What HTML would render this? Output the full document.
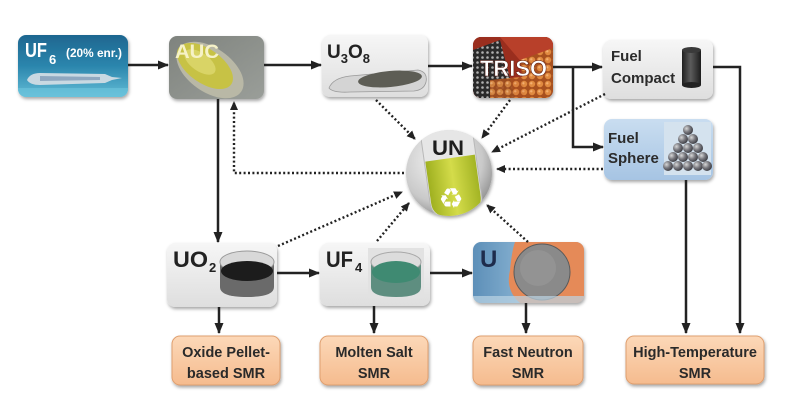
<!DOCTYPE html>
<html><head><meta charset="utf-8"><style>
html,body{margin:0;padding:0;background:#fff;}
svg{display:block;}
text{font-family:"Liberation Sans",sans-serif;font-weight:bold;}
</style></head><body>
<svg width="797" height="403" viewBox="0 0 797 403" xmlns="http://www.w3.org/2000/svg">
<defs>
<filter id="sh" x="-10%" y="-10%" width="125%" height="130%"><feDropShadow dx="1" dy="2" stdDeviation="1.5" flood-color="#000" flood-opacity="0.35"/></filter>
<marker id="ah" markerUnits="userSpaceOnUse" markerWidth="11" markerHeight="10" refX="10" refY="5" orient="auto"><path d="M0,0.5 L11,5 L0,9.5 z" fill="#222"/></marker>
<marker id="ad" markerUnits="userSpaceOnUse" markerWidth="9" markerHeight="9" refX="8" refY="4.5" orient="auto"><path d="M0,0.5 L9,4.5 L0,8.5 z" fill="#222"/></marker>
<linearGradient id="gUF6" x1="0" y1="0" x2="0" y2="1"><stop offset="0" stop-color="#1e6690"/><stop offset="0.5" stop-color="#2b86ad"/><stop offset="1" stop-color="#62bcd6"/></linearGradient>
<linearGradient id="gAUC" x1="0" y1="0" x2="1" y2="1"><stop offset="0" stop-color="#7f837e"/><stop offset="1" stop-color="#9a9e99"/></linearGradient>
<linearGradient id="gLight" x1="0" y1="0" x2="0" y2="1"><stop offset="0" stop-color="#f6f6f6"/><stop offset="1" stop-color="#dedede"/></linearGradient>
<linearGradient id="gBlue" x1="0" y1="0" x2="0" y2="1"><stop offset="0" stop-color="#c9ddf0"/><stop offset="1" stop-color="#a6c4e3"/></linearGradient>
<linearGradient id="gOr" x1="0" y1="0" x2="0" y2="1"><stop offset="0" stop-color="#fcd8b8"/><stop offset="1" stop-color="#f5bb8e"/></linearGradient>
<linearGradient id="gU" x1="0" y1="0" x2="1" y2="0"><stop offset="0" stop-color="#5d8fb8"/><stop offset="0.5" stop-color="#8cb6d4"/><stop offset="1" stop-color="#a9c8dc"/></linearGradient>
<linearGradient id="gCyl" x1="0" y1="0" x2="1" y2="0"><stop offset="0" stop-color="#1f1f1f"/><stop offset="0.45" stop-color="#5c5c5c"/><stop offset="1" stop-color="#1c1c1c"/></linearGradient>
<radialGradient id="gBall" cx="0.35" cy="0.35" r="0.7"><stop offset="0" stop-color="#d8d8d8"/><stop offset="0.5" stop-color="#7a7a80"/><stop offset="1" stop-color="#3a3a40"/></radialGradient>
<radialGradient id="gUN" cx="0.4" cy="0.35" r="0.7"><stop offset="0" stop-color="#f4f4f4"/><stop offset="0.7" stop-color="#c9c9c9"/><stop offset="1" stop-color="#8e8e8e"/></radialGradient>
<linearGradient id="gLiq" x1="0" y1="0" x2="1" y2="0"><stop offset="0" stop-color="#9fb020"/><stop offset="0.5" stop-color="#d4dc4a"/><stop offset="1" stop-color="#a3b424"/></linearGradient>
<pattern id="dots" width="5" height="5" patternUnits="userSpaceOnUse"><rect width="5" height="5" fill="#2a2a2a"/><circle cx="2.5" cy="2.5" r="1.3" fill="#b0b0b0"/></pattern>
<pattern id="ocirc" width="8" height="8" patternUnits="userSpaceOnUse"><rect width="8" height="8" fill="#a8501e"/><circle cx="4" cy="4" r="3.2" fill="#e08a40"/><circle cx="3.3" cy="3.3" r="1.2" fill="#f4b070"/></pattern>
<clipPath id="cUF6"><rect x="18" y="35" width="110" height="62" rx="8"/></clipPath>
<clipPath id="cAUC"><rect x="169" y="36" width="95" height="63" rx="8"/></clipPath>
<clipPath id="cU3"><rect x="322" y="35" width="106" height="62" rx="8"/></clipPath>
<clipPath id="cTR"><rect x="473" y="37" width="80" height="61" rx="8"/></clipPath>
<clipPath id="cU"><rect x="473" y="242" width="111" height="61" rx="8"/></clipPath>
<clipPath id="cUN"><circle cx="449" cy="173" r="43"/></clipPath>
</defs>

<!-- UF6 -->
<g filter="url(#sh)"><rect x="18" y="35" width="110" height="62" rx="8" fill="url(#gUF6)"/></g>
<g clip-path="url(#cUF6)">
<path d="M27,80 Q30,73 40,73 L105,74 L112,77 L122,78 L112,80 L105,83 L40,85 Q30,85 27,80 z" fill="#c9d9e2"/>
<path d="M40,76 L100,77 L100,80 L40,81 z" fill="#8fa8c0"/>
<rect x="18" y="88" width="110" height="9" fill="#6ec6dd" opacity="0.6"/>
</g>
<text x="25" y="57" font-size="20" fill="#fff" textLength="22" lengthAdjust="spacingAndGlyphs">UF</text>
<text x="49" y="64" font-size="13" fill="#fff">6</text>
<text x="66" y="57" font-size="12" fill="#fff" textLength="56" lengthAdjust="spacingAndGlyphs">(20% enr.)</text>

<!-- AUC -->
<g filter="url(#sh)"><rect x="169" y="36" width="95" height="63" rx="8" fill="url(#gAUC)"/></g>
<g clip-path="url(#cAUC)">
<ellipse cx="210" cy="70" rx="38" ry="22" transform="rotate(35 210 70)" fill="#b9b8a6"/>
<ellipse cx="205" cy="66" rx="32" ry="17" transform="rotate(35 205 66)" fill="#c7c245"/>
<ellipse cx="200" cy="62" rx="18" ry="9" transform="rotate(35 200 62)" fill="#d9d466"/>
</g>
<text x="175" y="58" font-size="19" fill="#f6f2c8" textLength="44" lengthAdjust="spacingAndGlyphs">AUC</text>

<!-- U3O8 -->
<g filter="url(#sh)"><rect x="322" y="35" width="106" height="62" rx="8" fill="url(#gLight)"/></g>
<g clip-path="url(#cU3)">
<path d="M329,88 Q333,78 350,76 L418,70 Q428,72 426,82 Q424,90 414,91 L350,92 Q333,93 329,88 z" fill="#d4d4d4" stroke="#9a9a9a" stroke-width="0.8"/>
<ellipse cx="390" cy="79" rx="32" ry="8" transform="rotate(-5 390 79)" fill="#5d5d55"/>
</g>
<text x="327" y="58" font-size="19" fill="#222">U<tspan font-size="13" dy="5">3</tspan><tspan font-size="19" dy="-5">O</tspan><tspan font-size="13" dy="5">8</tspan></text>

<!-- TRISO -->
<g filter="url(#sh)"><rect x="473" y="37" width="80" height="61" rx="8" fill="#7a2a1a"/></g>
<g clip-path="url(#cTR)">
<rect x="473" y="37" width="80" height="61" fill="#9a2e1e"/>
<polygon points="500,37 553,37 553,60 530,72" fill="#b8402a"/>
<polygon points="473,50 500,40 515,98 473,98" fill="url(#dots)"/>
<polygon points="520,60 553,48 553,98 525,98" fill="url(#ocirc)"/>
<polygon points="490,80 530,76 553,90 553,98 490,98" fill="url(#ocirc)" opacity="0.9"/>
</g>
<text x="480" y="76" font-size="22" fill="#fff" stroke="#5a1a10" stroke-width="0.5" textLength="67" lengthAdjust="spacingAndGlyphs">TRISO</text>

<!-- Fuel Compact -->
<g filter="url(#sh)"><rect x="603" y="40" width="110" height="59" rx="8" fill="url(#gLight)"/></g>
<rect x="682" y="50" width="19" height="35" fill="url(#gCyl)"/>
<ellipse cx="691.5" cy="50" rx="9.5" ry="3" fill="#3a3a3a"/>
<ellipse cx="691.5" cy="85" rx="9.5" ry="3" fill="#222"/>
<text x="611" y="61" font-size="15" fill="#2b2b2b">Fuel</text>
<text x="611" y="83" font-size="15" fill="#2b2b2b">Compact</text>

<!-- Fuel Sphere -->
<g filter="url(#sh)"><rect x="604" y="119" width="109" height="61" rx="8" fill="url(#gBlue)"/></g>
<rect x="664" y="122" width="47" height="53" fill="#d4e2ee"/>
<g>
<circle cx="688" cy="130" r="5" fill="url(#gBall)"/>
<circle cx="683" cy="139" r="5" fill="url(#gBall)"/><circle cx="693" cy="139" r="5" fill="url(#gBall)"/>
<circle cx="678" cy="148" r="5" fill="url(#gBall)"/><circle cx="688" cy="148" r="5" fill="url(#gBall)"/><circle cx="698" cy="148" r="5" fill="url(#gBall)"/>
<circle cx="673" cy="157" r="5" fill="url(#gBall)"/><circle cx="683" cy="157" r="5" fill="url(#gBall)"/><circle cx="693" cy="157" r="5" fill="url(#gBall)"/><circle cx="703" cy="157" r="5" fill="url(#gBall)"/>
<circle cx="668" cy="166" r="5" fill="url(#gBall)"/><circle cx="678" cy="166" r="5" fill="url(#gBall)"/><circle cx="688" cy="166" r="5" fill="url(#gBall)"/><circle cx="698" cy="166" r="5" fill="url(#gBall)"/><circle cx="707" cy="166" r="5" fill="url(#gBall)"/>
</g>
<text x="608" y="143" font-size="15" fill="#2b2b2b">Fuel</text>
<text x="608" y="163" font-size="15" fill="#2b2b2b">Sphere</text>

<!-- UN circle -->
<g filter="url(#sh)"><circle cx="449" cy="173" r="43" fill="url(#gUN)"/></g>
<g clip-path="url(#cUN)">
<g transform="rotate(-8 452 172)">
<path d="M426,128 L478,128 L478,200 Q478,218 452,218 Q426,218 426,200 z" fill="#e6e6e6" stroke="#b8b8b8" stroke-width="1"/>
<path d="M427,158 L477,158 L477,200 Q477,217 452,217 Q427,217 427,200 z" fill="url(#gLiq)"/>
</g>
</g>
<text x="432" y="155" font-size="21" fill="#1e1e1e" textLength="32" lengthAdjust="spacingAndGlyphs">UN</text>
<text x="451" y="208" font-size="28" fill="#fff" text-anchor="middle" style="font-family:'DejaVu Sans',sans-serif;font-weight:normal">♻</text>

<!-- UO2 -->
<g filter="url(#sh)"><rect x="167" y="243" width="110" height="64" rx="8" fill="url(#gLight)"/></g>
<path d="M220,262 L220,287 Q220,297 247,297 Q274,297 274,287 L274,262 z" fill="#6a6a6a"/>
<ellipse cx="247" cy="262" rx="27" ry="11" fill="#d8d8d8" stroke="#9a9a9a" stroke-width="1"/>
<ellipse cx="247" cy="271" rx="26" ry="10" fill="#1c1c1c"/>
<text x="173" y="267" font-size="22" fill="#222" textLength="35" lengthAdjust="spacingAndGlyphs">UO</text>
<text x="209" y="272" font-size="13" fill="#222">2</text>

<!-- UF4 -->
<g filter="url(#sh)"><rect x="320" y="243" width="110" height="63" rx="8" fill="url(#gLight)"/></g>
<rect x="368" y="248" width="56" height="50" fill="#e2e2e2"/>
<path d="M371,262 L371,287 Q371,297 396,297 Q421,297 421,287 L421,262 z" fill="#5e8e80"/>
<ellipse cx="396" cy="262" rx="25" ry="10" fill="#dcdcdc" stroke="#a8a8a8" stroke-width="1"/>
<ellipse cx="396" cy="272" rx="24" ry="11" fill="#3f8a72"/>
<text x="326" y="267" font-size="22" fill="#222" textLength="27" lengthAdjust="spacingAndGlyphs">UF</text>
<text x="355" y="272" font-size="13" fill="#222">4</text>

<!-- U -->
<g filter="url(#sh)"><rect x="473" y="242" width="111" height="61" rx="8" fill="url(#gU)"/></g>
<g clip-path="url(#cU)">
<path d="M515,242 L584,242 L584,303 L520,303 Q505,290 510,270 Q512,250 515,242 z" fill="#e58a58"/>
<circle cx="542" cy="272" r="28" fill="#8a8a8a" stroke="#5a5a5a" stroke-width="1"/>
<circle cx="538" cy="268" r="18" fill="#9a9a9a" opacity="0.6"/>
<rect x="473" y="296" width="111" height="7" fill="#bcd4e4" opacity="0.7"/>
</g>
<text x="480" y="267" font-size="24" fill="#1e2c4c">U</text>

<!-- Orange boxes -->
<g filter="url(#sh)">
<rect x="172" y="336" width="108" height="49" rx="8" fill="url(#gOr)" stroke="#e0a070" stroke-width="1"/>
<rect x="320" y="336" width="108" height="49" rx="8" fill="url(#gOr)" stroke="#e0a070" stroke-width="1"/>
<rect x="473" y="336" width="110" height="49" rx="8" fill="url(#gOr)" stroke="#e0a070" stroke-width="1"/>
<rect x="626" y="336" width="138" height="48" rx="8" fill="url(#gOr)" stroke="#e0a070" stroke-width="1"/>
</g>
<g font-size="14.5" fill="#2a2a2a" text-anchor="middle">
<text x="226" y="357">Oxide Pellet-</text><text x="226" y="378">based SMR</text>
<text x="374" y="357">Molten Salt</text><text x="374" y="378">SMR</text>
<text x="528" y="357">Fast Neutron</text><text x="528" y="378">SMR</text>
<text x="695" y="357">High-Temperature</text><text x="695" y="378">SMR</text>
</g>

<!-- Solid arrows -->
<g stroke="#222" stroke-width="2.5" fill="none">
<line x1="128" y1="65" x2="168" y2="65" marker-end="url(#ah)"/>
<line x1="264" y1="65" x2="321" y2="65" marker-end="url(#ah)"/>
<line x1="428" y1="66" x2="472" y2="66" marker-end="url(#ah)"/>
<line x1="553" y1="67" x2="602" y2="67" marker-end="url(#ah)"/>
<polyline points="573,67 573,147 603,147" marker-end="url(#ah)"/>
<polyline points="713,67 740,67 740,333" marker-end="url(#ah)"/>
<line x1="686" y1="180" x2="686" y2="333" marker-end="url(#ah)"/>
<line x1="218" y1="99" x2="218" y2="242" marker-end="url(#ah)"/>
<line x1="277" y1="273" x2="319" y2="273" marker-end="url(#ah)"/>
<line x1="430" y1="273" x2="472" y2="273" marker-end="url(#ah)"/>
<line x1="219" y1="307" x2="219" y2="333" marker-end="url(#ah)"/>
<line x1="374" y1="306" x2="374" y2="333" marker-end="url(#ah)"/>
<line x1="526" y1="303" x2="526" y2="333" marker-end="url(#ah)"/>
</g>

<!-- Dotted arrows -->
<g stroke="#222" stroke-width="2.4" fill="none" stroke-dasharray="2 2.4">
<polyline points="404,173 234,173 234,102" marker-end="url(#ad)"/>
<line x1="376" y1="100" x2="415" y2="139" marker-end="url(#ad)"/>
<line x1="510" y1="100" x2="482" y2="138" marker-end="url(#ad)"/>
<line x1="605" y1="94" x2="492" y2="152" marker-end="url(#ad)"/>
<line x1="603" y1="169" x2="497" y2="169" marker-end="url(#ad)"/>
<line x1="278" y1="246" x2="402" y2="192" marker-end="url(#ad)"/>
<line x1="377" y1="241" x2="409" y2="203" marker-end="url(#ad)"/>
<line x1="528" y1="242" x2="487" y2="205" marker-end="url(#ad)"/>
</g>
</svg>
</body></html>
